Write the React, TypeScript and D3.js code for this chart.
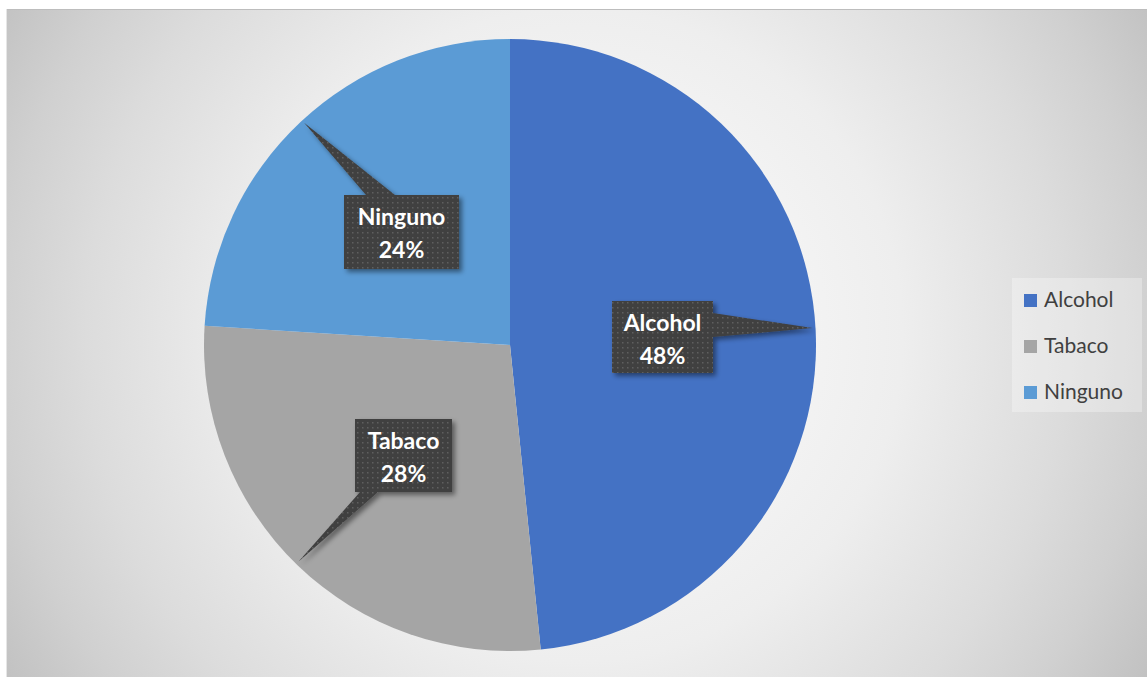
import React from "react";
import * as d3 from "d3";

const categories = ["Alcohol", "Tabaco", "Ninguno"];
const values = [121, 69, 60];
const colors = ["#4472C4", "#A5A5A5", "#5B9BD5"];

const W = 1147;
const H = 677;
const CX = 510;
const CY = 345;
const R = 306;

// callout layout: box and pointer geometry
const callouts = [
  { box: [612, 301, 713, 373], side: "right", base: [313, 337], tipAngle: 86.8 },
  { box: [355, 419, 452, 492], side: "bottom", base: [378, 360], tipAngle: 224.3 },
  { box: [344, 195, 459, 269], side: "top", base: [366, 395], tipAngle: 317.2 },
];

export default function App() {
  const total = d3.sum(values);
  const pie = d3
    .pie<number>()
    .sort(null)
    .value((d) => d)
    .startAngle(0)
    .endAngle(2 * Math.PI);
  const arcs = pie(values);
  const arc = d3.arc<d3.PieArcDatum<number>>().innerRadius(0).outerRadius(R);

  const tip = (deg: number) => {
    const a = (deg * Math.PI) / 180;
    return [CX + Math.sin(a) * (R - 3), CY - Math.cos(a) * (R - 3)];
  };

  const calloutPath = (c: any) => {
    const [x0, y0, x1, y1] = c.box;
    const [tx, ty] = tip(c.tipAngle);
    if (c.side === "right") {
      return `M${x0},${y0}L${x1},${y0}L${x1},${c.base[0]}L${tx},${ty}L${x1},${c.base[1]}L${x1},${y1}L${x0},${y1}Z`;
    }
    if (c.side === "top") {
      return `M${x0},${y0}L${c.base[0]},${y0}L${tx},${ty}L${c.base[1]},${y0}L${x1},${y0}L${x1},${y1}L${x0},${y1}Z`;
    }
    return `M${x0},${y0}L${x1},${y0}L${x1},${y1}L${c.base[0]},${y1}L${tx},${ty}L${c.base[1]},${y1}L${x0},${y1}Z`;
  };

  const legendY = d3.scalePoint<string>().domain(categories).range([307, 399]);

  return (
    <svg
      width={W}
      height={H}
      style={{ position: "absolute", left: 0, top: 0, fontFamily: "Lato, 'Open Sans', sans-serif" }}
    >
      <defs>
        <radialGradient id="bg" gradientUnits="userSpaceOnUse" cx={576} cy={335} r={680}>
          <stop offset="0" stopColor="#ffffff" />
          <stop offset="0.48" stopColor="#eeeeee" />
          <stop offset="0.72" stopColor="#dcdcdc" />
          <stop offset="0.85" stopColor="#d0d0d0" />
          <stop offset="1" stopColor="#bfbfbf" />
        </radialGradient>
        <pattern id="dots" patternUnits="userSpaceOnUse" width={5} height={5}>
          <rect width={5} height={5} fill="#404040" />
          <rect x={2} y={2} width={1.5} height={1.5} fill="#5e5e5e" />
        </pattern>
        <filter id="shadow" x="-20%" y="-20%" width="150%" height="150%">
          <feDropShadow dx={3} dy={3} stdDeviation={2.5} floodColor="#000" floodOpacity={0.45} />
        </filter>
      </defs>
      <rect x={0} y={0} width={W} height={H} fill="#ffffff" />
      <rect x={6} y={9} width={W - 6} height={H - 9} fill="url(#bg)" />
      <line x1={6} y1={9.5} x2={W} y2={9.5} stroke="#bdbdbd" strokeWidth={1} />
      <line x1={6.5} y1={9} x2={6.5} y2={H} stroke="#e6e6e6" strokeWidth={1} />

      <g transform={`translate(${CX},${CY})`}>
        {arcs.map((a, i) => (
          <path key={categories[i]} d={arc(a) || ""} fill={colors[i]} />
        ))}
      </g>

      {callouts.map((c, i) => {
        const [x0, y0, x1, y1] = c.box;
        const mx = (x0 + x1) / 2;
        const pct = Math.round((values[i] / total) * 100);
        return (
          <g key={categories[i]}>
            <path d={calloutPath(c)} fill="url(#dots)" filter="url(#shadow)" />
            <text x={mx} y={y0 + 30} textAnchor="middle" fill="#ffffff" fontWeight={700} fontSize={23}>
              {categories[i]}
            </text>
            <text x={mx} y={y0 + 63} textAnchor="middle" fill="#ffffff" fontWeight={700} fontSize={23}>
              {pct}%
            </text>
          </g>
        );
      })}

      <rect x={1012} y={278} width={130} height={134} fill="#ffffff" fillOpacity={0.3} />
      {categories.map((c, i) => {
        const y = legendY(c) as number;
        return (
          <g key={c}>
            <rect x={1024} y={y - 13} width={13} height={13} fill={colors[i]} />
            <text x={1044} y={y} fill="#404040" fontSize={21}>
              {c}
            </text>
          </g>
        );
      })}
    </svg>
  );
}
